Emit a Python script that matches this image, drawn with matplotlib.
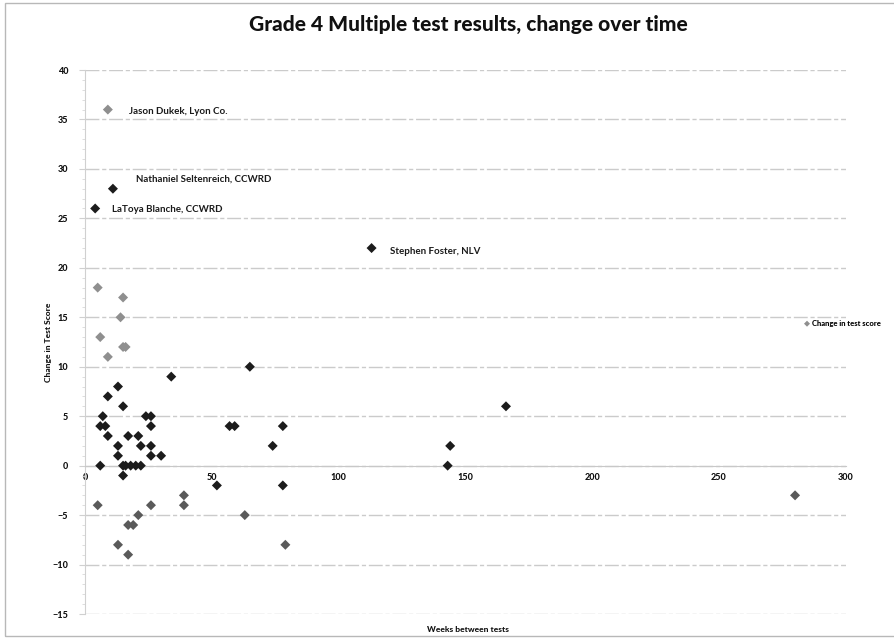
import matplotlib
matplotlib.use("Agg")
import matplotlib.pyplot as plt
from matplotlib.patches import Rectangle

# weeks between the two tests and change in score
weeks = [9, 11, 4, 113, 5, 15, 14, 6, 15, 16, 9, 65, 34, 13, 9, 15, 166,
         7, 24, 26, 6, 8, 26, 57, 59, 78, 9, 17, 21, 13, 22, 26, 74, 144,
         13, 26, 30, 6, 15, 16, 18, 20, 22, 143, 15, 52, 78, 39, 280,
         5, 26, 39, 21, 63, 17, 19, 13, 79, 17]
change = [36, 28, 26, 22, 18, 17, 15, 13, 12, 12, 11, 10, 9, 8, 7, 6, 6,
          5, 5, 5, 4, 4, 4, 4, 4, 4, 3, 3, 3, 2, 2, 2, 2, 2,
          1, 1, 1, 0, 0, 0, 0, 0, 0, 0, -1, -2, -2, -3, -3,
          -4, -4, -4, -5, -5, -6, -6, -8, -8, -9]

# labelled teachers (index into the lists above)
label_idx = [0, 1, 2, 3]
label_text = ["Jason Dukek, Lyon Co.", "Nathaniel Seltenreich, CCWRD",
              "LaToya Blanche, CCWRD", "Stephen Foster, NLV"]

y_ticks = list(range(-15, 41, 5))
x_ticks = list(range(0, 301, 50))

plt.rcParams['font.family'] = ['Lato', 'DejaVu Sans']

fig = plt.figure(figsize=(8.95, 6.4), dpi=100)
ax = fig.add_axes([0.095, 0.0406, 0.850, 0.850])

# scan makes some markers look lighter than others
colors = []
for v in change:
    if 11 <= v <= 18 or v >= 30:
        colors.append('#8f8f8f')
    elif v <= -3:
        colors.append('#5a5a5a')
    else:
        colors.append('#1c1c1c')

ax.scatter(weeks, change, marker='D', s=26, c=colors, edgecolors='none',
           zorder=3, label='Change in test score')

for y in y_ticks:
    ax.axhline(y, color='#cbcbcb', lw=1.0, ls=(0, (10, 2, 3, 2)), zorder=1)

ax.set_xlim(0, 300)
ax.set_ylim(-15, 40)
ax.set_xticks(x_ticks)
ax.set_yticks(y_ticks)
ax.set_yticks(range(-15, 41), minor=True)

for s in ['top', 'right']:
    ax.spines[s].set_visible(False)
ax.spines['bottom'].set_position(('data', 0))
ax.spines['bottom'].set_color('#c8c8c8')
ax.spines['left'].set_color('#d0d0d0')

ax.tick_params(axis='x', length=0, pad=5, labelsize=6.5, colors='#111111')
ax.tick_params(axis='y', which='major', length=4, pad=8, labelsize=6.5,
               colors='#d0d0d0', labelcolor='#111111')
ax.tick_params(axis='y', which='minor', length=2, colors='#d8d8d8')
for lab in ax.get_xticklabels() + ax.get_yticklabels():
    lab.set_fontweight('black')

# offsets in pixels for the name labels
offsets = [(21, -2), (23, 10), (17, -1), (18, -3)]
for i, txt, off in zip(label_idx, label_text, offsets):
    ax.annotate(txt, (weeks[i], change[i]), xytext=off,
                textcoords='offset pixels', fontsize=7, color='#1a1a1a',
                fontweight='bold', ha='left', va='center')

ax.set_ylabel('Change in Test Score', fontsize=6, fontweight='black',
              color='#111111')
ax.yaxis.set_label_coords(-0.043, 0.5)
fig.text(0.523, 0.017, 'Weeks between tests', fontsize=6, fontweight='black',
         ha='center', va='center', color='#111111')

fig.text(0.523, 0.961, 'Grade 4 Multiple test results, change over time',
         fontsize=15, fontweight='black', ha='center', va='center',
         color='#111111')

ax.legend(loc='center left', bbox_to_anchor=(0.894, 0.495),
          bbox_transform=fig.transFigure, frameon=False,
          handletextpad=0.2, markerscale=0.6, borderpad=0, handlelength=0.8,
          prop={'weight': 'black', 'size': 5.5})

# chart border from the scan
fig.patches.append(Rectangle((0.006, 0.006), 1.2, 0.99, transform=fig.transFigure,
                             fill=False, ec='#b8b8b8', lw=1.0))

fig.savefig('out.png', dpi=100)
